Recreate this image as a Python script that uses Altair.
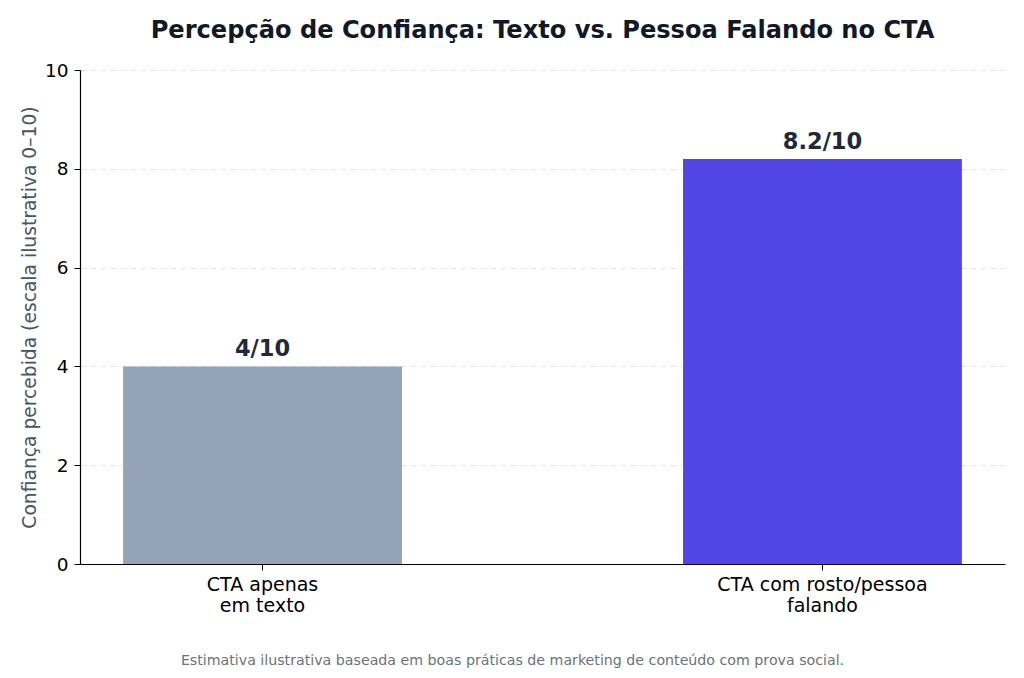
import altair as alt
import pandas as pd

categories = ["CTA apenas em texto", "CTA com rosto/pessoa falando"]
label_lines = ["CTA apenas|em texto", "CTA com rosto/pessoa|falando"]
values = [4.0, 8.2]
value_labels = ["4/10", "8.2/10"]
colors = ["#94a3b8", "#4f46e5"]

df = pd.DataFrame({
    "cat": label_lines,
    "valor": values,
    "rotulo": value_labels,
})

FONT = "DejaVu Sans"

x = alt.X(
    "cat:N",
    sort=label_lines,
    scale=alt.Scale(paddingInner=0.502, paddingOuter=0.077),
    axis=alt.Axis(
        title="Estimativa ilustrativa baseada em boas práticas de marketing de conteúdo com prova social.",
        titleFont=FONT,
        titleFontSize=14.2,
        titleFontWeight="normal",
        titleColor="#6b7280",
        titlePadding=38,
        titleX=432,
        titleAnchor="start",
        titleAlign="center",
        labelExpr="split(datum.label, '|')",
        labelAngle=0,
        labelLimit=0,
        labelFont=FONT,
        labelFontSize=19,
        labelColor="#000000",
        labelPadding=5,
        labelLineHeight=21,
        tickSize=6,
        tickColor="#000000",
        domainColor="#000000",
        domainWidth=1.2,
        grid=False,
    ),
)

base = alt.Chart(df)

bars = base.mark_bar().encode(
    x=x,
    y=alt.Y(
        "valor:Q",
        scale=alt.Scale(domain=[0, 10]),
        axis=alt.Axis(
            title="Confiança percebida (escala ilustrativa 0–10)",
            titleFont=FONT,
            titleFontSize=18.7,
            titleFontWeight="normal",
            titleColor="#475569",
            titlePadding=5,
            values=[0, 2, 4, 6, 8, 10],
            labelFont=FONT,
            labelFontSize=18.5,
            labelColor="#000000",
            labelPadding=6,
            tickSize=6,
            tickColor="#000000",
            domainColor="#000000",
            domainWidth=1.2,
            grid=True,
            gridColor="#e5e7eb",
            gridDash=[6, 4],
            gridWidth=1,
        ),
    ),
    color=alt.Color("cat:N", scale=alt.Scale(domain=label_lines, range=colors), legend=None),
)

texts = base.mark_text(
    font=FONT, fontSize=22.5, fontWeight="bold", color="#1e293b", baseline="alphabetic", dy=-10
).encode(
    x=alt.X("cat:N", sort=label_lines),
    y="valor:Q",
    text="rotulo:N",
)

chart = (
    alt.layer(bars, texts)
    .properties(
        width=925,
        height=494,
        background="white",
        autosize=alt.AutoSizeParams(type="none"),
        padding={"left": 72, "top": 62, "right": 11, "bottom": 106},
        title=alt.TitleParams(
            "Percepção de Confiança: Texto vs. Pessoa Falando no CTA",
            font=FONT,
            fontSize=24.1,
            fontWeight="bold",
            color="#111827",
            anchor="middle",
            offset=18,
        ),
    )
    .configure_view(stroke=None)
)

chart.save("out.html", embed_options={"renderer": "svg", "actions": False})
